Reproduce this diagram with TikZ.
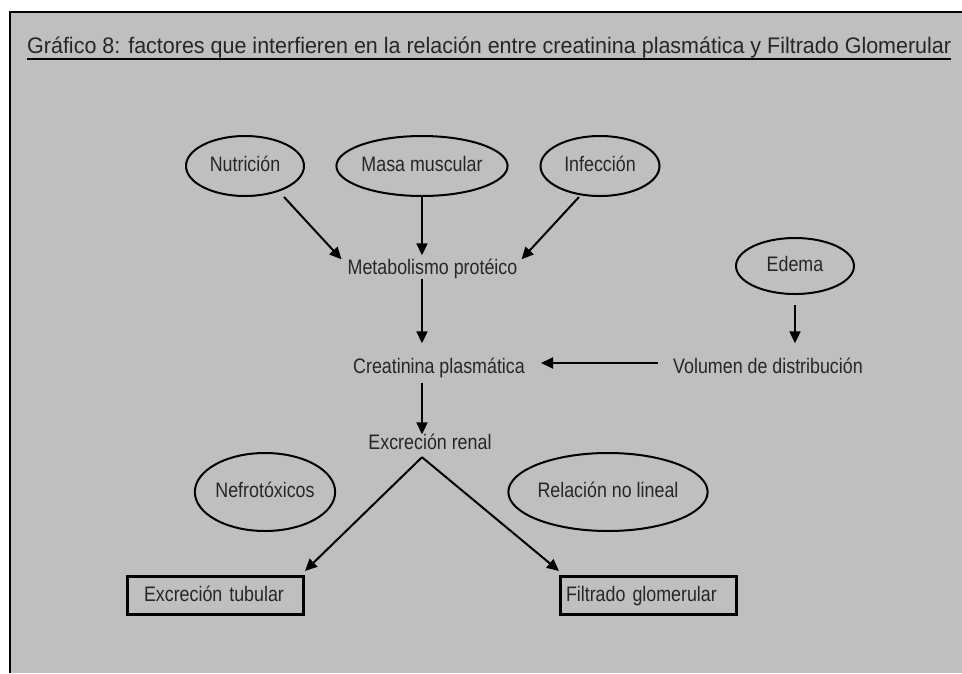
\documentclass[tikz,border=0pt]{standalone}
\usepackage{fontspec}
\setmainfont{Liberation Sans}[FakeStretch=0.85]
\newfontfamily\titlefont{Liberation Sans}[FakeStretch=0.955]
\usetikzlibrary{arrows.meta,shapes.geometric}

\begin{document}
\begin{tikzpicture}[x=1pt,y=-1pt,
  txt/.style={inner sep=0pt,text height=15pt,text depth=4pt,text=black!85,font=\fontsize{21}{25}\selectfont},
  oval/.style={txt,ellipse,draw=black,line width=2pt},
  box/.style={txt,draw=black,line width=3pt,minimum height=38pt,inner ysep=0pt,align=left},
  arr/.style={line width=2pt,-{Triangle[length=12pt,width=11pt]}}]
\useasboundingbox (0,0) rectangle (962,673);
\fill[white] (0,0) rectangle (962,673);
\fill[black!25] (10,12) rectangle (962,673);
\draw[line width=2pt] (10,673) -- (10,12) -- (962,12);

\node[txt,anchor=base west,font=\titlefont\fontsize{22.5}{27}\selectfont] (title) at (27,53)
  {Gráfico 8: factores que interfieren en la relación entre creatinina plasmática y Filtrado Glomerular};
\draw[line width=2pt] ([yshift=-6pt]title.base west) -- ([yshift=-6pt]title.base east);

\node[oval,minimum width=118pt,minimum height=60pt] (nut) at (245,166) {Nutrición};
\node[oval,minimum width=158pt,minimum height=60pt] (masa) at (422,166) {Masa muscular};
\node[oval,minimum width=119pt,minimum height=60pt] (inf) at (600,166) {Infección};
\node[oval,minimum width=118pt,minimum height=56pt] (edema) at (795,266) {Edema};
\node[oval,minimum width=118pt,minimum height=78pt] (nefro) at (265,492) {Nefrotóxicos};
\node[oval,minimum width=177pt,minimum height=78pt] (rel) at (608,492) {Relación no lineal};

\node[txt] (meta) at (432.5,269) {Metabolismo protéico};
\node[txt] (crea) at (439,368) {Creatinina plasmática};
\node[txt] (vol) at (768,368) {Volumen de distribución};
\node[txt] (renal) at (430,444) {Excreción renal};

\node[box,text width=143pt,inner xsep=16.5pt] (tub) at (215.5,595.5) {Excreción tubular};
\node[box,text width=165pt,inner xsep=5.5pt] (fil) at (648.5,595.5) {Filtrado glomerular};

\coordinate (split) at ([xshift=-8pt,yshift=-3.5pt]renal.south);

\draw[arr] ([xshift=39pt]nut.south) -- ([xshift=-6pt]meta.north west);
\draw[arr,shorten >=4pt] (masa.south) -- (masa.south |- meta.north);
\draw[arr] ([xshift=-21pt]inf.south) -- ([xshift=4pt]meta.north east);
\draw[arr,shorten >=15pt] (meta.south -| masa.south) -- (crea.north -| masa.south);
\draw[arr,shorten <=10pt,shorten >=15pt] (edema.south) -- (edema.south |- vol.north);
\draw[arr,shorten <=15pt,shorten >=16pt] ([yshift=5pt]vol.west) -- ([yshift=5pt]crea.east);
\draw[arr,shorten <=5.5pt] (crea.south -| masa.south) -- (renal.north -| masa.south);
\draw[arr] (split) -- ([yshift=4pt]tub.north east);
\draw[arr] (split) -- ([yshift=4pt]fil.north west);
\end{tikzpicture}
\end{document}
